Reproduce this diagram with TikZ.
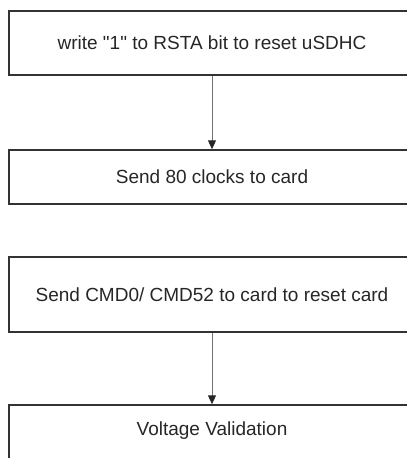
\documentclass[tikz,border=0pt]{standalone}
\usepackage{fontspec}
\setmainfont{Liberation Sans}[Ligatures=TeXOff]
\usetikzlibrary{arrows.meta,positioning}

\begin{document}
\begin{tikzpicture}[x=1pt,y=1pt]
        % Define colors for boxes and arrows
        \definecolor{boxline}{rgb}{0.2, 0.2, 0.2} % Dark gray
        \definecolor{arrowline}{rgb}{0.45, 0.45, 0.45} % Mid gray
        \tikzset{
          flowbox/.style={draw=boxline, line width=1.5pt, minimum width=406pt, text=black!85, font=\fontsize{19}{22}\selectfont, inner sep=0pt},
          flowarrow/.style={draw=arrowline, line width=1pt, -{Triangle[length=9pt,width=8pt,fill=black!85,color=black!85]}}
        }
        
        % Fix page size and crop the boxes at the edges
        \useasboundingbox (0,0) rectangle (407,-458);
        \clip (0,0) rectangle (407,-458);
        
        % Draw steps
        \node[flowbox, minimum height=64pt] (rsta) at (212,-43) {write "1" to RSTA bit to reset uSDHC}; % Reset controller
        \node[flowbox, minimum height=54pt] (clocks) at (212,-177) {Send 80 clocks to card}; % Clocks
        \node[flowbox, minimum height=75pt] (cmd) at (212,-294.5) {Send CMD0/ CMD52 to card to reset card}; % Reset card
        \node[flowbox, minimum height=56pt] (volt) at (212,-433) {}; % Voltage validation box
        \node[text=black!85, font=\fontsize{19}{22}\selectfont, inner sep=0pt] (volttext) at (212,-431) {Voltage Validation}; % Its label
        
        % Draw connectors
        \draw[flowarrow] (rsta) -- (clocks);
        \draw[flowarrow] (cmd) -- (volt);
        \end{tikzpicture}
\end{document}
